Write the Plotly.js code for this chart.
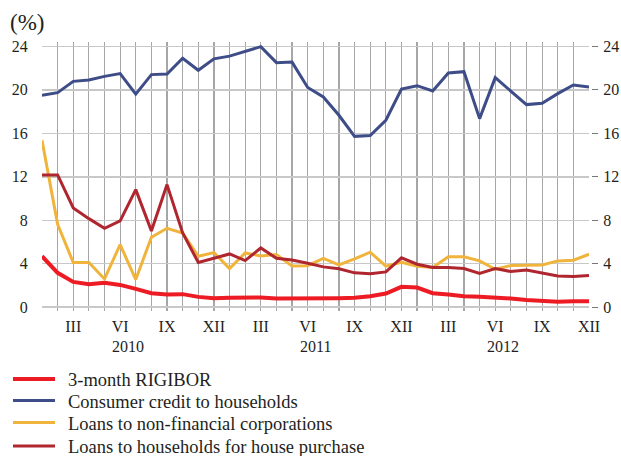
<!DOCTYPE html>
<html>
<head>
<meta charset="utf-8">
<script src="https://cdn.plot.ly/plotly-3.0.1.min.js"></script>
<style>
html,body{margin:0;padding:0;background:#fff;}
#chart{width:621px;height:456px;}
</style>
</head>
<body>
<div id="chart"></div>
<script>
// Months Jan 2010 .. Dec 2012
const months = ["I","II","III","IV","V","VI","VII","VIII","IX","X","XI","XII",
                "I","II","III","IV","V","VI","VII","VIII","IX","X","XI","XII",
                "I","II","III","IV","V","VI","VII","VIII","IX","X","XI","XII"];
const shownMonths = ["III","VI","IX","XII"];
const years = ["2010","2011","2012"];

const rigibor = [4.69,3.16,2.33,2.11,2.24,2.05,1.69,1.29,1.17,1.20,0.95,0.83,
                 0.86,0.89,0.89,0.80,0.80,0.74,0.83,0.83,0.86,1.01,1.26,1.87,
                 1.81,1.29,1.17,1.01,0.95,0.92,0.80,0.67,0.61,0.49,0.55,0.55];
const consumer = [19.50,19.74,20.78,20.90,21.24,21.50,19.60,21.40,21.45,22.90,21.80,22.85,
                  23.10,23.55,23.97,22.50,22.55,20.22,19.34,17.66,15.72,15.79,17.20,20.07,
                  20.38,19.90,21.55,21.67,17.35,21.12,19.90,18.64,18.76,19.65,20.44,20.26];
const nonFinCorp = [15.36,7.63,4.11,4.11,2.60,5.76,2.54,6.44,7.26,6.83,4.69,5.03,
                    3.56,4.99,4.72,4.84,3.80,3.82,4.50,3.89,4.44,5.06,3.77,4.14,
                    3.77,3.65,4.63,4.63,4.26,3.49,3.83,3.83,3.89,4.26,4.32,4.87];
const housePurchase = [12.17,12.17,9.13,8.15,7.26,7.94,10.82,7.02,11.28,6.83,4.11,4.54,
                       4.90,4.29,5.45,4.50,4.35,4.04,3.71,3.53,3.16,3.07,3.25,4.54,
                       3.95,3.65,3.65,3.56,3.10,3.56,3.28,3.43,3.16,2.88,2.82,2.91];

const names = ["3-month RIGIBOR","Consumer credit to households",
               "Loans to non-financial corporations","Loans to households for house purchase"];
const colors = ["#ed1c24","#3e4d88","#f0b43c","#b0262f"];
const widths = [4,3,3,3];
const series = [rigibor, consumer, nonFinCorp, housePurchase];

const xIdx = months.map((m,i)=>i);
const tickText = months.map(m => shownMonths.includes(m) ? m : "");

const traces = series.map((s,k)=>({
  x: xIdx, y: s, type: "scatter", mode: "lines", name: names[k],
  line: {color: colors[k], width: widths[k]}, hoverinfo: "skip", showlegend: false
}));
// invisible trace for right axis
traces.push({x:[0], y:[0], yaxis:"y2", mode:"markers", marker:{opacity:0}, showlegend:false, hoverinfo:"skip"});

const font = {family: "'Liberation Serif', 'Times New Roman', serif", color: "#231f20"};
const annotations = years.map((y,i)=>({
  text: y, x: 5.5 + 12*i, xref: "x", y: 0, yref: "paper", yanchor: "top", yshift: -25,
  showarrow: false, font: Object.assign({size: 16}, font)
}));
annotations.push({text:"(%)", x:0, xref:"paper", xanchor:"left", xshift:-34, y:1, yref:"paper", yanchor:"bottom", yshift:5,
  showarrow:false, font:Object.assign({size:23}, font)});

// Manual legend (swatches in paper coordinates)
const legendRowsPx = [379, 400.5, 422.5, 446];
const plotTop = 42, plotH = 269, plotL = 42, plotW = 549;
const px2x = p => (p - plotL) / plotW;
const py2y = p => (plotTop + plotH - p) / plotH;
const shapes = [];
names.forEach((n,k)=>{
  const yy = py2y(legendRowsPx[k]);
  shapes.push({type:"line", xref:"paper", yref:"paper", x0:px2x(13), x1:px2x(55), y0:yy, y1:yy,
               line:{color:colors[k], width:widths[k]}});
  annotations.push({text:n, xref:"paper", yref:"paper", x:px2x(66), y:yy, xanchor:"left", yanchor:"middle",
                    yshift:-1, showarrow:false, font:Object.assign({size:18.5}, font)});
});

const layout = {
  width: 621, height: 456,
  margin: {l: 42, r: 30, t: 42, b: 145},
  paper_bgcolor: "#fff", plot_bgcolor: "#fff",
  font: font,
  showlegend: false,
  xaxis: {
    domain: [0, 0.99636], range: [0, 35], tickmode: "array", tickvals: xIdx, ticktext: tickText,
    showgrid: true, gridcolor: "#a6a6a6", gridwidth: 1.2, zeroline: false, showline: false,
    ticks: "outside", ticklen: 1, tickcolor: "rgba(0,0,0,0)", tickfont: Object.assign({size: 16}, font),
    fixedrange: true
  },
  yaxis: {
    range: [-0.35, 24.4], tickmode: "array", tickvals: [0,4,8,12,16,20,24],
    showgrid: true, gridcolor: "#c8c8c8", gridwidth: 1.5, zeroline: false, showline: false,
    ticks: "outside", ticklen: 10, tickcolor: "rgba(0,0,0,0)", tickfont: Object.assign({size: 16}, font),
    fixedrange: true
  },
  yaxis2: {
    overlaying: "y", anchor: "free", position: 1, side: "right",
    range: [-0.35, 24.4], tickmode: "array", tickvals: [0,4,8,12,16,20,24],
    showgrid: false, zeroline: false, showline: false,
    ticks: "outside", ticklen: 6, tickcolor: "#777", tickwidth: 1, ticklabelstandoff: 2,
    tickfont: Object.assign({size: 16}, font),
    fixedrange: true
  },
  shapes: shapes,
  annotations: annotations
};

Plotly.newPlot("chart", traces, layout, {displayModeBar: false, staticPlot: true});
</script>
</body>
</html>
